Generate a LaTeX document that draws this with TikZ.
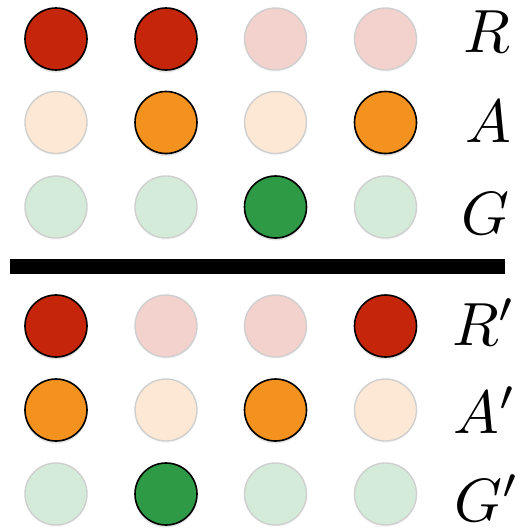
\documentclass[tikz,border=0pt]{standalone}
\usepackage{graphicx}
\usetikzlibrary{shadows}
\definecolor{redOn}{HTML}{C5260A}
\definecolor{redOff}{HTML}{F3D1CC}
\definecolor{orgOn}{HTML}{F3921E}
\definecolor{orgOff}{HTML}{FCE8D4}
\definecolor{grnOn}{HTML}{2E9A45}
\definecolor{grnOff}{HTML}{D5EBDA}
\definecolor{rimOff}{HTML}{CFCFCF}
\newcommand{\rowname}[1]{\scalebox{6.1}{$#1$}}
\begin{document}
\begin{tikzpicture}[x=1pt,y=-1pt,
  lamp/.style={circle,minimum size=62pt,inner sep=0pt},
  on/.style={lamp,draw=black,line width=1.6pt,
    drop shadow={opacity=0.22,shadow xshift=0pt,shadow yshift=-2.5pt}},
  off/.style={lamp,draw=rimOff,line width=1.4pt,
    drop shadow={opacity=0.06,shadow xshift=0pt,shadow yshift=-2pt}},
  lbl/.style={inner sep=0pt,anchor=base}]
\useasboundingbox (0,0) rectangle (525,528);
% upper group: R, A, G
\node[on,fill=redOn]   (r1) at (56,39) {};
\node[on,fill=redOn]   (r2) at (166,39) {};
\node[off,fill=redOff] (r3) at (275.5,39) {};
\node[off,fill=redOff] (r4) at (385.5,39) {};
\node[off,fill=orgOff] (a1) at (56,122.5) {};
\node[on,fill=orgOn]   (a2) at (166,122.5) {};
\node[off,fill=orgOff] (a3) at (275.5,122.5) {};
\node[on,fill=orgOn]   (a4) at (385.5,122.5) {};
\node[off,fill=grnOff] (g1) at (56,207) {};
\node[off,fill=grnOff] (g2) at (166,207) {};
\node[on,fill=grnOn]   (g3) at (275.5,207) {};
\node[off,fill=grnOff] (g4) at (385.5,207) {};
% separating bar
\fill[black] (10,259) rectangle (505,274);
% lower group: R', A', G'
\node[on,fill=redOn]   (rp1) at (56,326) {};
\node[off,fill=redOff] (rp2) at (166,326) {};
\node[off,fill=redOff] (rp3) at (275.5,326) {};
\node[on,fill=redOn]   (rp4) at (385.5,326) {};
\node[on,fill=orgOn]   (ap1) at (56,410) {};
\node[off,fill=orgOff] (ap2) at (166,410) {};
\node[on,fill=orgOn]   (ap3) at (275.5,410) {};
\node[off,fill=orgOff] (ap4) at (385.5,410) {};
\node[off,fill=grnOff] (gp1) at (56,494) {};
\node[on,fill=grnOn]   (gp2) at (166,494) {};
\node[off,fill=grnOff] (gp3) at (275.5,494) {};
\node[off,fill=grnOff] (gp4) at (385.5,494) {};
% row labels
\node[lbl] (lR)  at (487,52)  {\rowname{R}};
\node[lbl] (lA)  at (488,142) {\rowname{A}};
\node[lbl] (lG)  at (485,234) {\rowname{G}};
\node[lbl] (lRp) at (484,345) {\rowname{R'}};
\node[lbl] (lAp) at (485,433) {\rowname{A'}};
\node[lbl] (lGp) at (487,521) {\rowname{G'}};
\end{tikzpicture}
\end{document}
